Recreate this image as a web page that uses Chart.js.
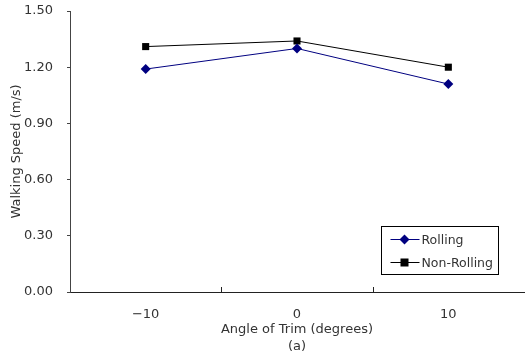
<!DOCTYPE html>
<html>
<head>
<meta charset="utf-8">
<script src="https://cdn.jsdelivr.net/npm/chart.js@4.4.0/dist/chart.umd.min.js"></script>
<style>
  html, body { margin: 0; padding: 0; background: #fff; }
  #wrap { width: 525px; height: 355px; }
</style>
</head>
<body>
<div id="wrap"><canvas id="c" width="525" height="355"></canvas></div>
<script>
const categories = ['\u221210', '0', '10'];
const rolling = [1.19, 1.30, 1.11];
const nonRolling = [1.31, 1.34, 1.20];
const yTicks = [0, 0.3, 0.6, 0.9, 1.2, 1.5];

const FONT = 'DejaVu Sans, sans-serif';
const TEXT = '#333';

// inward ticks on the x axis at category boundaries + legend box inside plot
const extras = {
  id: 'extras',
  afterDraw(chart) {
    const ctx = chart.ctx;
    const x = chart.scales.x;
    const area = chart.chartArea;
    ctx.save();
    ctx.strokeStyle = '#222';
    ctx.lineWidth = 1;
    for (let i = 0; i < categories.length - 1; i++) {
      const px = Math.round((x.getPixelForValue(i) + x.getPixelForValue(i + 1)) / 2) + 0.5;
      ctx.beginPath();
      ctx.moveTo(px, area.bottom);
      ctx.lineTo(px, area.bottom - 5);
      ctx.stroke();
    }

    // legend
    const bx = 381.5, by = 226.5, bw = 117, bh = 48;
    ctx.strokeStyle = '#000';
    ctx.strokeRect(bx, by, bw, bh);
    ctx.font = '12.5px ' + FONT;
    ctx.textBaseline = 'middle';
    chart.data.datasets.forEach((ds, i) => {
      const ry = by + 13 + i * 23;
      ctx.strokeStyle = ds.borderColor;
      ctx.beginPath();
      ctx.moveTo(bx + 9, ry);
      ctx.lineTo(bx + 38, ry);
      ctx.stroke();
      ctx.fillStyle = ds.backgroundColor;
      const mx = bx + 23;
      if (ds.pointStyle === 'rect') {
        ctx.fillRect(mx - 4, ry - 4, 8, 8);
      } else {
        ctx.beginPath();
        ctx.moveTo(mx, ry - 5);
        ctx.lineTo(mx + 5, ry);
        ctx.lineTo(mx, ry + 5);
        ctx.lineTo(mx - 5, ry);
        ctx.closePath();
        ctx.fill();
      }
      ctx.fillStyle = TEXT;
      ctx.fillText(ds.label, bx + 40, ry + 1);
    });
    ctx.restore();
  }
};

new Chart(document.getElementById('c').getContext('2d'), {
  type: 'line',
  data: {
    labels: categories,
    datasets: [
      {
        label: 'Rolling',
        data: rolling,
        borderColor: '#000080',
        backgroundColor: '#000080',
        borderWidth: 1,
        pointStyle: 'rectRot',
        pointRadius: 5,
        pointBorderWidth: 0,
        tension: 0
      },
      {
        label: 'Non-Rolling',
        data: nonRolling,
        borderColor: '#000',
        backgroundColor: '#000',
        borderWidth: 1,
        pointStyle: 'rect',
        pointRadius: 5,
        pointBorderWidth: 0,
        tension: 0
      }
    ]
  },
  options: {
    responsive: false,
    animation: false,
    layout: { autoPadding: false, padding: { top: 11, right: 1, bottom: 0, left: 0 } },
    plugins: {
      legend: { display: false },
      tooltip: { enabled: false }
    },
    scales: {
      x: {
        type: 'category',
        offset: true,
        afterFit(axis) {
          axis.height = 63;
          axis.paddingLeft = 0;
          axis.paddingRight = 0;
        },
        grid: { display: false },
        border: { display: true, color: '#222', width: 1 },
        ticks: { color: TEXT, font: { family: FONT, size: 13 }, padding: 7 },
        title: {
          display: true,
          text: ['Angle of Trim (degrees)', '(a)'],
          color: TEXT,
          font: { family: FONT, size: 13, lineHeight: 1.3 },
          padding: { top: 0, bottom: 0 }
        }
      },
      y: {
        min: 0,
        max: 1.5,
        afterBuildTicks(axis) { axis.ticks = yTicks.map(v => ({ value: v })); },
        afterFit(axis) {
          axis.width = 70;
          axis.paddingTop = 0;
          axis.paddingBottom = 0;
        },
        grid: { drawOnChartArea: false, tickLength: 3, color: '#444' },
        border: { display: true, color: '#444', width: 1 },
        ticks: {
          color: TEXT,
          font: { family: FONT, size: 13 },
          padding: 14,
          callback: v => v.toFixed(2)
        },
        title: {
          display: true,
          text: 'Walking Speed (m/s)',
          color: TEXT,
          font: { family: FONT, size: 13 },
          padding: { top: 9, bottom: 0 }
        }
      }
    }
  },
  plugins: [extras]
});
</script>
</body>
</html>
